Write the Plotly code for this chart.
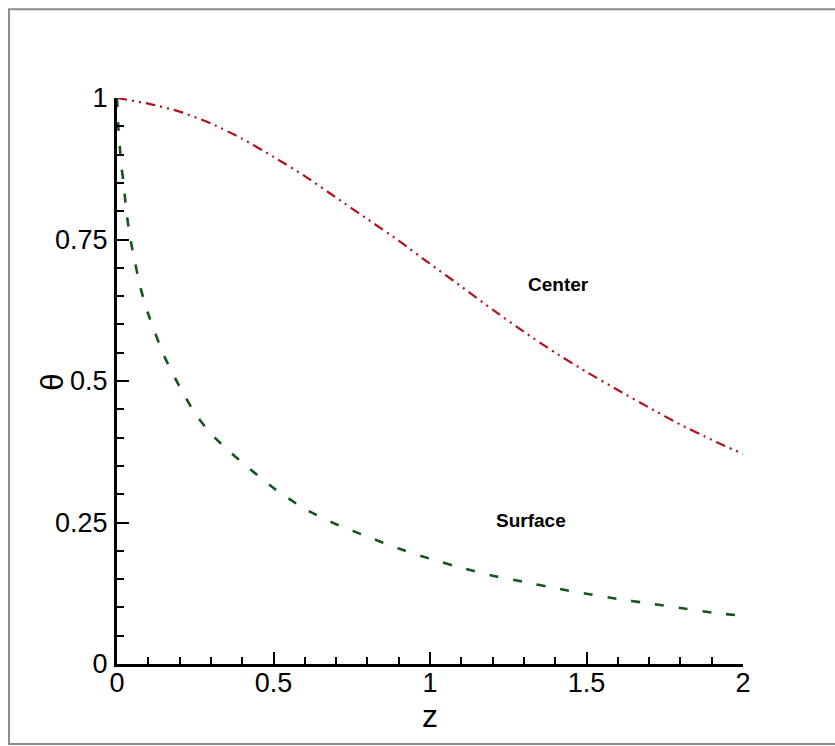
import plotly.graph_objects as go

# ---- data ----
z_center = [0.0, 0.1, 0.2, 0.3, 0.4, 0.5, 0.6, 0.7, 0.8, 0.9, 1.0,
            1.1, 1.2, 1.3, 1.4, 1.5, 1.6, 1.7, 1.8, 1.9, 2.0]
theta_center = [1.0, 0.99, 0.976, 0.955, 0.928, 0.896, 0.862, 0.824, 0.786, 0.748, 0.707,
                0.667, 0.626, 0.587, 0.550, 0.516, 0.484, 0.453, 0.423, 0.396, 0.371]

z_surface = [0.0, 0.004, 0.008, 0.015, 0.02, 0.03, 0.04, 0.05, 0.075, 0.1, 0.15, 0.2,
             0.25, 0.3, 0.35, 0.4, 0.5, 0.6, 0.7, 0.8, 0.9, 1.0,
             1.1, 1.2, 1.3, 1.4, 1.5, 1.6, 1.7, 1.8, 1.9, 2.0]
theta_surface = [1.0, 0.95, 0.92, 0.875, 0.855, 0.80, 0.76, 0.73, 0.665, 0.618, 0.545, 0.49,
                 0.442, 0.407, 0.38, 0.356, 0.311, 0.274, 0.247, 0.225, 0.204, 0.186,
                 0.170, 0.156, 0.145, 0.134, 0.124, 0.115, 0.107, 0.099, 0.091, 0.085]

x_ticks = [0, 0.5, 1, 1.5, 2]
x_ticklabels = ["0", "0.5", "1", "1.5", "2"]
y_ticks = [0, 0.25, 0.5, 0.75, 1]
y_ticklabels = ["0", "0.25", "0.5", "0.75", "1"]

labels = ["Center", "Surface"]
label_z = [1.41, 1.323]
label_theta = [0.67, 0.254]

FONT = "Liberation Sans, Arial, sans-serif"

fig = go.Figure()
fig.add_trace(go.Scatter(
    x=z_center, y=theta_center, mode="lines", name="Center",
    line=dict(color="#B0101C", width=2.2, dash="10px,5px,2px,5px,2px,5px", shape="spline",
              smoothing=0.6),
    showlegend=False))
fig.add_trace(go.Scatter(
    x=z_surface, y=theta_surface, mode="lines", name="Surface",
    line=dict(color="#14561A", width=2.6, dash="9px,15px", shape="spline", smoothing=0.6),
    showlegend=False))

for t, zx, ty in zip(labels, label_z, label_theta):
    fig.add_annotation(x=zx, y=ty, text="<b>%s</b>" % t, showarrow=False,
                       xanchor="center", yanchor="middle",
                       font=dict(family=FONT, size=19, color="black"))

# axis titles
fig.add_annotation(xref="paper", yref="paper", x=0.5, y=-0.0917, text="z", showarrow=False,
                   xanchor="center", yanchor="middle",
                   font=dict(family=FONT, size=32, color="black"))
fig.add_annotation(xref="paper", yref="paper", x=-0.102, y=0.497, text="θ", showarrow=False,
                   xanchor="center", yanchor="middle",
                   textangle=-90, font=dict(family=FONT, size=31, color="black"))

# outer grey frame
fig.add_shape(type="rect", xref="paper", yref="paper",
              x0=-0.1725, x1=1.16, y0=-0.1413, y1=1.157,
              line=dict(color="#8c8c8c", width=2), layer="below")

axis_common = dict(
    showgrid=False, zeroline=False, showline=True, linecolor="black", linewidth=3,
    ticks="inside", ticklen=12, tickwidth=2, tickcolor="black",
    tickfont=dict(family=FONT, size=27, color="black"),
    mirror=False,
)
fig.update_xaxes(range=[0, 2], tickvals=x_ticks, ticktext=x_ticklabels,
                 minor=dict(dtick=0.1, ticks="inside", ticklen=7, tickwidth=1.5, tickcolor="black"),
                 ticklabelstandoff=-7, **axis_common)
fig.update_yaxes(range=[0, 1], tickvals=y_ticks, ticktext=y_ticklabels,
                 minor=dict(dtick=0.05, ticks="inside", ticklen=7, tickwidth=1.5, tickcolor="black"),
                 ticklabelstandoff=1, **axis_common)

fig.update_layout(
    width=835, height=746,
    margin=dict(l=117, r=92, t=98, b=82, autoexpand=False),
    paper_bgcolor="white", plot_bgcolor="white",
    showlegend=False,
)

fig.write_html("out.html")
